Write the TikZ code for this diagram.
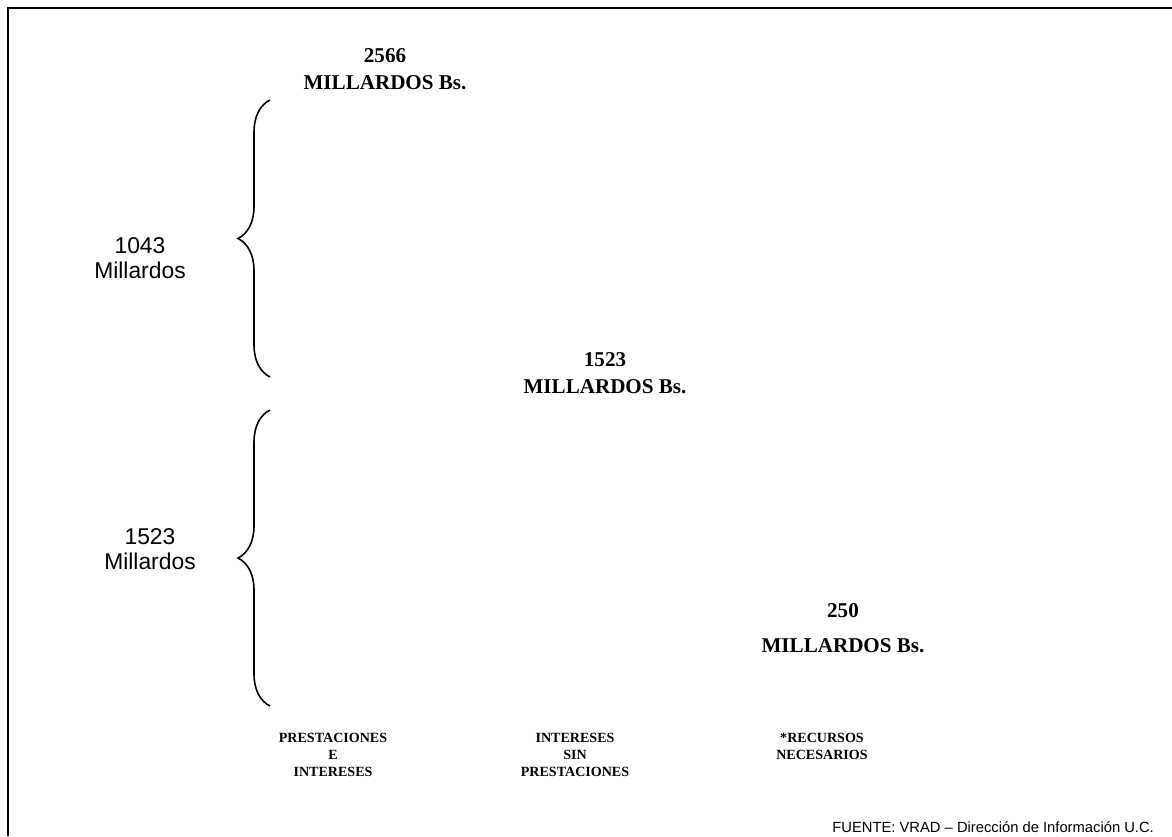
\documentclass[tikz,border=0pt]{standalone}
\usepackage{fontspec}
\setmainfont{Liberation Serif}
\setsansfont{Liberation Sans}
\usetikzlibrary{decorations.pathreplacing}

\begin{document}
\begin{tikzpicture}[x=0.02cm,y=-0.02cm]
        % Define styles for labels and braces
        \tikzstyle{total}=[align=center, inner sep=0pt, font=\bfseries\fontsize{12}{15.5}\selectfont]
        \tikzstyle{part}=[align=center, inner sep=0pt, font=\sffamily\fontsize{13}{14.5}\selectfont]
        \tikzstyle{colname}=[align=center, anchor=north, inner sep=0pt, font=\bfseries\fontsize{8}{9.6}\selectfont]
        \tikzstyle{bracket}=[decorate, decoration={brace, amplitude=0.64cm}, line width=0.9pt]

        \useasboundingbox (0,0) rectangle (1172,836);

        % Frame
        \draw[line width=1.2pt] (8,836) -- (8,8) -- (1172,8);

        % Totals
        \node[total] (t2566) at (385,69) {2566\\MILLARDOS Bs.};
        \node[total] (t1523) at (605,373) {1523\\MILLARDOS Bs.};
        \node[total] (t250) at (843,628) {250\\[0.15cm]MILLARDOS Bs.};

        % Brace ends
        \coordinate (b1top) at (270,100);
        \coordinate (b1bot) at (270,377);
        \coordinate (b2top) at (270,410);
        \coordinate (b2bot) at (270,706);

        % Draw braces
        \draw[bracket] (b1bot) -- (b1top);
        \draw[bracket] (b2bot) -- (b2top);

        % Parts
        \node[part] (p1043) at (140,258) {1043\\Millardos};
        \node[part] (p1523) at (150,549) {1523\\Millardos};

        % Column names
        \node[colname] (cpres) at (333,733) {PRESTACIONES\\E\\INTERESES};
        \node[colname] (cint) at (575,733) {INTERESES\\SIN\\PRESTACIONES};
        \node[colname] (crec) at (822,733) {*RECURSOS\\NECESARIOS};

        % Source
        \node[anchor=west, inner sep=0pt, font=\sffamily\fontsize{8.4}{10}\selectfont] (src) at (832,827) {FUENTE: VRAD -- Dirección de Información U.C.};

      \end{tikzpicture}
\end{document}
